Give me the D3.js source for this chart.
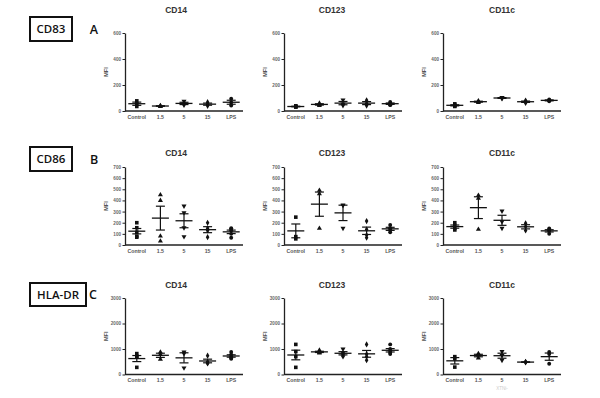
<!DOCTYPE html>
<html>
<head>
<meta charset="utf-8">
<script src="https://cdn.jsdelivr.net/npm/d3@7"></script>
<style>
  body { margin: 0; background: #fff; }
  svg { display: block; font-family: "Liberation Sans", Arial, sans-serif; }
</style>
</head>
<body>
<svg id="chart" width="600" height="398"></svg>
<script>
// ── data ────────────────────────────────────────────────────────────────────
const categories = ["Control", "1.5", "5", "15", "LPS"];
const markers    = ["CD83", "CD86", "HLA-DR"];
const panelLetters = ["A", "B", "C"];
const cellTypes  = ["CD14", "CD123", "CD11c"];

const yMax   = [600, 700, 3000];
const yTicks = [[0, 200, 400, 600], [0, 100, 200, 300, 400, 500, 600, 700], [0, 1000, 2000, 3000]];

// MFI per replicate, one array per category
const cd83_cd14  = [[78, 55, 35], [42, 38, 35], [75, 55, 45], [68, 50, 40], [95, 65, 42]];
const cd83_cd123 = [[40, 36, 32, 30], [60, 50, 42], [85, 55, 42], [82, 58, 42], [70, 60, 50, 45]];
const cd83_cd11c = [[55, 45, 40, 35], [78, 72, 65], [105, 100, 95], [80, 72, 62], [88, 82, 75]];

const cd86_cd14  = [[200, 155, 115, 80, 70], [450, 400, 80, 35], [350, 290, 155, 75], [200, 150, 130, 70], [150, 145, 130, 100, 65]];
const cd86_cd123 = [[250, 75, 55], [490, 460, 150], [360, 355, 150], [215, 140, 90, 65], [180, 150, 135, 115]];
const cd86_cd11c = [[200, 175, 150, 135], [445, 420, 140], [305, 210, 150], [195, 165, 130], [148, 135, 125, 100]];

const hla_cd14   = [[820, 720, 680, 280], [880, 780, 600], [880, 820, 260], [740, 500, 450, 430], [880, 780, 700, 650, 620]];
const hla_cd123  = [[1180, 900, 700, 280], [950, 900, 860, 840], [1000, 850, 780, 700], [1180, 800, 700, 560], [1180, 1000, 920, 850, 800]];
const hla_cd11c  = [[700, 620, 290], [820, 760, 650], [900, 750, 560], [500, 490, 470], [880, 800, 420]];

const panelData = [
  [cd83_cd14, cd83_cd123, cd83_cd11c],
  [cd86_cd14, cd86_cd123, cd86_cd11c],
  [hla_cd14,  hla_cd123,  hla_cd11c]
];

// ── layout ──────────────────────────────────────────────────────────────────
const colX   = [125, 284, 443];
const panelW = 118;
const titleX = [176, 332, 502];
const rowTop = [33, 167, 298];
const rowBot = [111, 245, 374.5];
const titleY = [13, 156, 288];

const boxes = [
  { x: 30, y: 17, w: 42, h: 24, lx: 94 },
  { x: 30, y: 147, w: 42, h: 24, lx: 94 },
  { x: 30, y: 283, w: 56, h: 23, lx: 93 }
];

const symbols = [
  d3.symbol().type(d3.symbolSquare).size(13),
  d3.symbol().type(d3.symbolTriangle).size(11),
  d3.symbol().type(d3.symbolTriangle).size(11),
  d3.symbol().type(d3.symbolDiamond).size(11),
  d3.symbol().type(d3.symbolCircle).size(12)
];
const symbolRot = [0, 0, 180, 0, 0];

const svg = d3.select("#chart");

// row labels
markers.forEach((m, r) => {
  const b = boxes[r];
  svg.append("rect").attr("x", b.x).attr("y", b.y).attr("width", b.w).attr("height", b.h)
    .attr("fill", "#fff").attr("stroke", "#111").attr("stroke-width", 2);
  svg.append("text").attr("x", b.x + b.w / 2).attr("y", b.y + b.h / 2 + 4)
    .attr("text-anchor", "middle").attr("font-size", 11.5).attr("font-weight", 600).attr("fill", "#111")
    .attr("font-family", "'Open Sans', sans-serif").text(m);
  svg.append("text").attr("x", b.lx).attr("y", b.y + b.h / 2 + 4.5)
    .attr("text-anchor", "middle").attr("font-size", 12.5).attr("font-weight", 600).attr("fill", "#111")
    .attr("font-family", "'Open Sans', sans-serif").text(panelLetters[r]);
});

// panels
markers.forEach((m, r) => {
  cellTypes.forEach((ct, c) => {
    const values = panelData[r][c];
    const x0 = colX[c];
    const x = d3.scalePoint().domain(categories).range([x0, x0 + panelW]).padding(0.5);
    const y = d3.scaleLinear().domain([0, yMax[r]]).range([rowBot[r], rowTop[r]]);
    const g = svg.append("g");

    g.append("text").attr("x", titleX[c]).attr("y", titleY[r]).attr("text-anchor", "middle")
      .attr("font-size", 8.5).attr("font-weight", "bold").attr("fill", "#333").text(ct);

    const yAxis = g.append("g").attr("transform", `translate(${x0},0)`)
      .call(d3.axisLeft(y).tickValues(yTicks[r]).tickFormat(d3.format("d"))
        .tickSize(2.5).tickSizeOuter(0).tickPadding(1.5));
    yAxis.select(".domain").attr("stroke", "#222").attr("stroke-width", 1.3);
    yAxis.selectAll(".tick line").attr("stroke", "#222").attr("stroke-width", 1);
    yAxis.selectAll(".tick text").attr("font-size", 4.6).attr("font-weight", "bold")
      .attr("fill", "#666").attr("font-family", "'Liberation Sans', Arial, sans-serif");

    g.append("text").attr("transform", `translate(${x0 - 17},${(rowTop[r] + rowBot[r]) / 2}) rotate(-90)`)
      .attr("text-anchor", "middle").attr("font-size", 5.5).attr("font-weight", "bold")
      .attr("fill", "#555").text("MFI");

    g.append("line").attr("x1", x0).attr("x2", x0 + panelW).attr("y1", rowBot[r]).attr("y2", rowBot[r])
      .attr("stroke", "#222").attr("stroke-width", 1.5);

    g.selectAll("text.cat").data(categories).join("text").attr("class", "cat")
      .attr("x", d => x(d)).attr("y", rowBot[r] + 7.5).attr("text-anchor", "middle")
      .attr("font-size", 5.2).attr("font-weight", "bold").attr("fill", "#555").text(d => d);

    categories.forEach((cat, i) => {
      const v = values[i];
      const cx = x(cat);
      g.selectAll(null).data(v).join("path")
        .attr("d", symbols[i])
        .attr("transform", d => `translate(${cx},${y(d)}) rotate(${symbolRot[i]})`)
        .attr("fill", "#111");
      const mean = d3.mean(v);
      const sem = d3.deviation(v) / Math.sqrt(v.length);
      g.append("line").attr("x1", cx - 8.5).attr("x2", cx + 8.5).attr("y1", y(mean)).attr("y2", y(mean))
        .attr("stroke", "#111").attr("stroke-width", 1.3);
      g.append("line").attr("x1", cx).attr("x2", cx).attr("y1", y(mean - sem)).attr("y2", y(mean + sem))
        .attr("stroke", "#111").attr("stroke-width", 1.2);
      [mean - sem, mean + sem].forEach(e => {
        g.append("line").attr("x1", cx - 4.5).attr("x2", cx + 4.5).attr("y1", y(e)).attr("y2", y(e))
          .attr("stroke", "#111").attr("stroke-width", 1.2);
      });
    });
  });
});

// faint stray caption under the last panel
svg.append("text").attr("x", 502).attr("y", 390).attr("text-anchor", "middle")
  .attr("font-size", 4.5).attr("fill", "#ccc").text("XTNi-");
</script>
</body>
</html>
